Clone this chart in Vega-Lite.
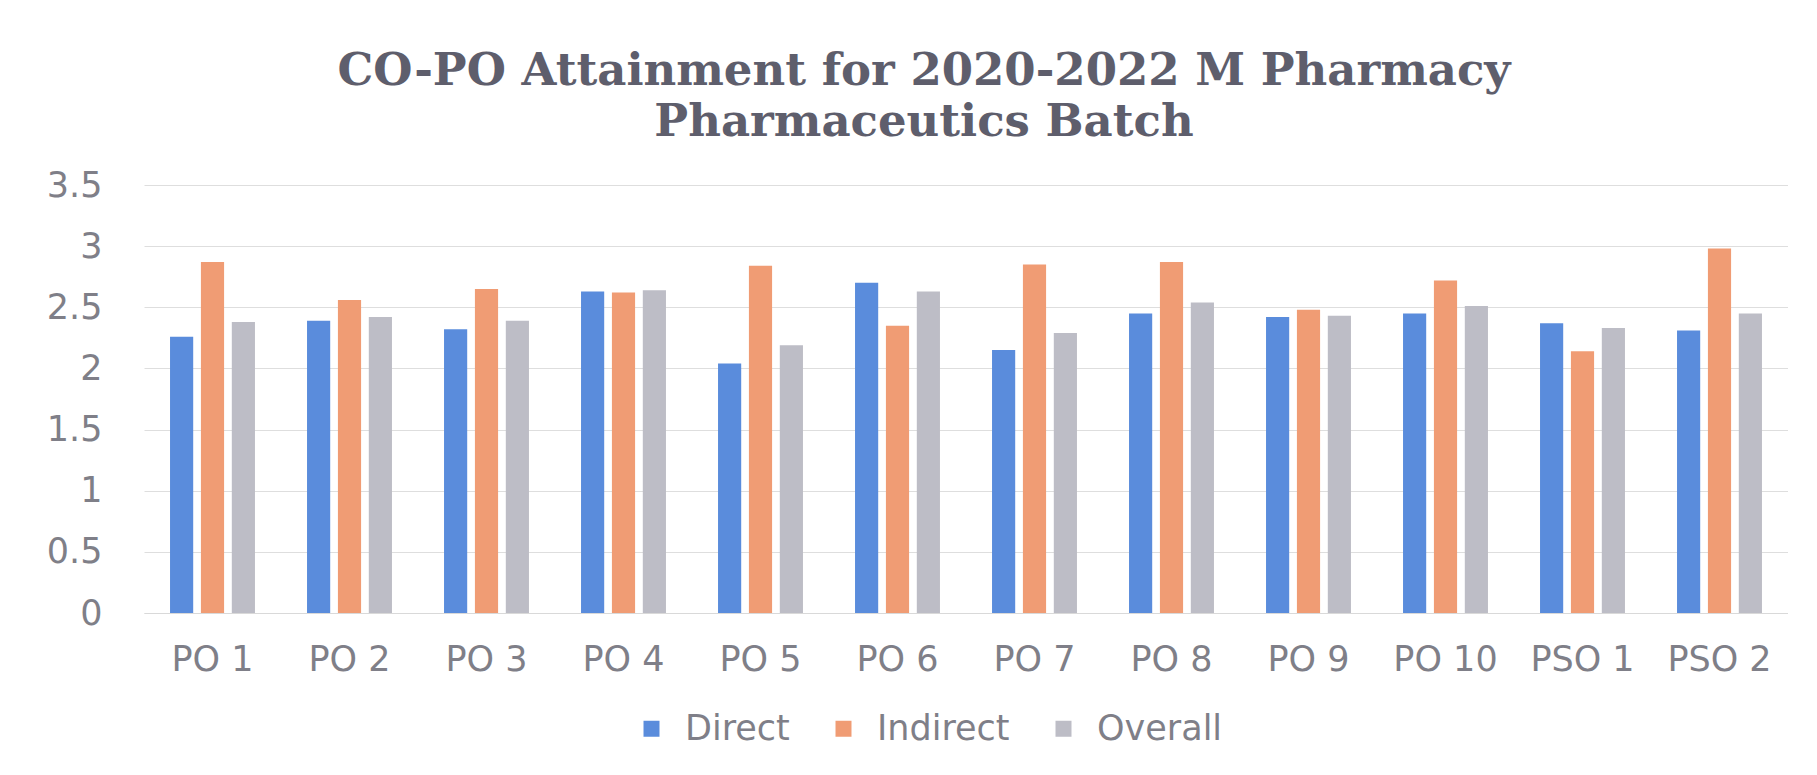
{
  "$schema": "https://vega.github.io/schema/vega-lite/v6.json",
  "width": 1644,
  "height": 428,
  "padding": {"top": 49, "left": 0, "right": 0, "bottom": 0},
  "autosize": {"type": "pad"},
  "background": "white",
  "title": {
    "text": ["CO-PO Attainment for 2020-2022 M Pharmacy", "Pharmaceutics Batch"],
    "font": "DejaVu Serif",
    "fontSize": 45,
    "fontWeight": "bold",
    "color": "#5e5e6c",
    "lineHeight": 51,
    "offset": 23,
    "anchor": "middle",
    "frame": "group",
    "dx": -42
  },
  "data": {
    "values": [
      {"po": "PO 1", "series": "Direct", "value": 2.26},
      {"po": "PO 1", "series": "Indirect", "value": 2.87},
      {"po": "PO 1", "series": "Overall", "value": 2.38},
      {"po": "PO 2", "series": "Direct", "value": 2.39},
      {"po": "PO 2", "series": "Indirect", "value": 2.56},
      {"po": "PO 2", "series": "Overall", "value": 2.42},
      {"po": "PO 3", "series": "Direct", "value": 2.32},
      {"po": "PO 3", "series": "Indirect", "value": 2.65},
      {"po": "PO 3", "series": "Overall", "value": 2.39},
      {"po": "PO 4", "series": "Direct", "value": 2.63},
      {"po": "PO 4", "series": "Indirect", "value": 2.62},
      {"po": "PO 4", "series": "Overall", "value": 2.64},
      {"po": "PO 5", "series": "Direct", "value": 2.04},
      {"po": "PO 5", "series": "Indirect", "value": 2.84},
      {"po": "PO 5", "series": "Overall", "value": 2.19},
      {"po": "PO 6", "series": "Direct", "value": 2.70},
      {"po": "PO 6", "series": "Indirect", "value": 2.35},
      {"po": "PO 6", "series": "Overall", "value": 2.63},
      {"po": "PO 7", "series": "Direct", "value": 2.15},
      {"po": "PO 7", "series": "Indirect", "value": 2.85},
      {"po": "PO 7", "series": "Overall", "value": 2.29},
      {"po": "PO 8", "series": "Direct", "value": 2.45},
      {"po": "PO 8", "series": "Indirect", "value": 2.87},
      {"po": "PO 8", "series": "Overall", "value": 2.54},
      {"po": "PO 9", "series": "Direct", "value": 2.42},
      {"po": "PO 9", "series": "Indirect", "value": 2.48},
      {"po": "PO 9", "series": "Overall", "value": 2.43},
      {"po": "PO 10", "series": "Direct", "value": 2.45},
      {"po": "PO 10", "series": "Indirect", "value": 2.72},
      {"po": "PO 10", "series": "Overall", "value": 2.51},
      {"po": "PSO 1", "series": "Direct", "value": 2.37},
      {"po": "PSO 1", "series": "Indirect", "value": 2.14},
      {"po": "PSO 1", "series": "Overall", "value": 2.33},
      {"po": "PSO 2", "series": "Direct", "value": 2.31},
      {"po": "PSO 2", "series": "Indirect", "value": 2.98},
      {"po": "PSO 2", "series": "Overall", "value": 2.45}
    ]
  },
  "mark": {"type": "bar"},
  "encoding": {
    "x": {
      "field": "po",
      "type": "nominal",
      "sort": ["PO 1", "PO 2", "PO 3", "PO 4", "PO 5", "PO 6", "PO 7", "PO 8", "PO 9", "PO 10", "PSO 1", "PSO 2"],
      "scale": {"paddingInner": 0.38, "paddingOuter": 0.19},
      "axis": {
        "title": null,
        "labelAngle": 0,
        "labelFont": "DejaVu Sans",
        "labelFontSize": 35,
        "labelColor": "#7f7f88",
        "ticks": false,
        "domainColor": "#d9d9d9",
        "labelPadding": 29,
        "grid": false
      }
    },
    "xOffset": {
      "field": "series",
      "type": "nominal",
      "sort": ["Direct", "Indirect", "Overall"],
      "scale": {"paddingInner": 0.25, "paddingOuter": 0}
    },
    "y": {
      "field": "value",
      "type": "quantitative",
      "scale": {"domain": [0, 3.5]},
      "axis": {
        "title": null,
        "values": [0, 0.5, 1, 1.5, 2, 2.5, 3, 3.5],
        "format": "~g",
        "labelFont": "DejaVu Sans",
        "labelFontSize": 35,
        "labelColor": "#7f7f88",
        "ticks": false,
        "domain": false,
        "gridColor": "#dedede",
        "labelPadding": 42,
        "minExtent": 144,
        "maxExtent": 144
      }
    },
    "color": {
      "field": "series",
      "type": "nominal",
      "sort": ["Direct", "Indirect", "Overall"],
      "scale": {"domain": ["Direct", "Indirect", "Overall"], "range": ["#5a8cdc", "#f09c74", "#bdbdc6"]},
      "legend": {
        "orient": "none",
        "legendX": 490,
        "legendY": 526,
        "direction": "horizontal",
        "title": null,
        "labelFont": "DejaVu Sans",
        "labelFontSize": 35,
        "labelColor": "#7f7f88",
        "symbolType": "square",
        "symbolSize": 256,
        "symbolStrokeWidth": 0,
        "labelOffset": 16,
        "columnPadding": 36
      }
    }
  },
  "config": {"view": {"stroke": null}}
}
